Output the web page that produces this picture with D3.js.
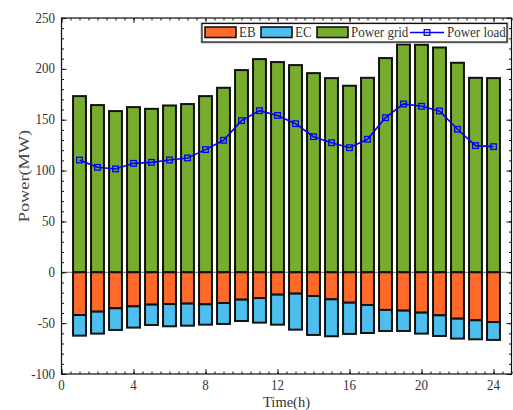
<!DOCTYPE html>
<html><head><meta charset="utf-8">
<script src="https://cdn.jsdelivr.net/npm/d3@7"></script>
<style>html,body{margin:0;padding:0;background:#fff;}svg{display:block;}</style>
</head><body>
<svg id="c" width="513" height="410"></svg>
<script>
const hours = [1,2,3,4,5,6,7,8,9,10,11,12,13,14,15,16,17,18,19,20,21,22,23,24];
const powerGrid = [173.2,164.4,158.5,162.4,160.7,164,165.4,173.2,181.4,198.8,209.6,206.7,203.7,195.8,190.9,183.4,191.2,210.6,224,223.7,221,206,191.2,190.9];
const eb = [-42,-38.7,-35.4,-33.5,-31.8,-31.2,-30.8,-31.5,-30.2,-26.9,-25.3,-22,-21,-23.3,-26.6,-29.9,-32.2,-37,-37.7,-39.7,-42.3,-45.6,-47.2,-48.9];
const ec = [-20.3,-21.6,-21.3,-20.9,-20,-21.9,-21.7,-20,-20.6,-21,-24.2,-29.5,-35.4,-38.3,-36.3,-30.7,-27.5,-20.7,-20,-20.6,-20.3,-19.6,-18.7,-17.6];
const powerLoad = [110.4,103.2,101.6,107.1,108.1,110.4,112.4,120.6,129.8,149.1,158.9,154.2,146.1,133.3,127.4,122.5,130.8,152,165.5,163.2,158.6,140.6,124.5,123.5];
const xTicks = [0,4,8,12,16,20,24];
const yTicks = [-100,-50,0,50,100,150,200,250];
const seriesNames = ["EB","EC","Power grid","Power load"];
const colors = {EB:"#FF6A2A", EC:"#4DBEEE", grid:"#77AC30", load:"#0000FF"};

const svg = d3.select("#c");
const FONT = "Liberation Serif, Times New Roman, serif";
const SY = 1.1;
const x = d3.scaleLinear().domain([0,25]).range([61.5,511.5]);
const y = d3.scaleLinear().domain([-100,250]).range([374,18]);
const bw = x(0.8)-x(0)-1.5;

const plot = svg.append("g");
plot.append("line").attr("x1",x(0)).attr("x2",x(25)).attr("y1",y(0)).attr("y2",y(0))
  .attr("stroke","#444").attr("stroke-width",0.8);

function bars(vals, base, fill){
  plot.append("g").selectAll("rect").data(hours).join("rect")
    .attr("x",(d)=>x(d)-bw/2).attr("width",bw)
    .attr("y",(d,i)=>Math.min(y(base(i)),y(base(i)+vals[i])))
    .attr("height",(d,i)=>Math.abs(y(base(i)+vals[i])-y(base(i))))
    .attr("fill",fill).attr("stroke","#111").attr("stroke-width",2);
}
bars(powerGrid, ()=>0, colors.grid);
bars(eb, ()=>0, colors.EB);
bars(ec, (i)=>eb[i], colors.EC);

const line = d3.line().x((d,i)=>x(hours[i])).y(d=>y(d));
plot.append("path").datum(powerLoad).attr("d",line).attr("fill","none")
  .attr("stroke",colors.load).attr("stroke-width",1.6);
plot.append("g").selectAll("rect").data(powerLoad).join("rect")
  .attr("x",(d,i)=>x(hours[i])-2.8).attr("y",d=>y(d)-2.8).attr("width",5.6).attr("height",5.6)
  .attr("fill","none").attr("stroke",colors.load).attr("stroke-width",1.3);

svg.append("rect").attr("x",x(0)).attr("y",y(250)).attr("width",x(25)-x(0)).attr("height",y(-100)-y(250))
  .attr("fill","none").attr("stroke","#111").attr("stroke-width",1.2);

const xMinor = d3.range(0,25.01,0.5);
const yMinor = d3.range(-100,250.01,10);
function addAxis(axisFn, scale, vals, size, transform){
  const g = svg.append("g").attr("transform",transform)
    .call(axisFn(scale).tickValues(vals).tickSizeInner(-size).tickSizeOuter(0).tickFormat(""));
  g.select(".domain").remove();
  g.selectAll("line").attr("stroke","#111").attr("stroke-width",1);
}
addAxis(d3.axisBottom, x, xMinor, 2.5, `translate(0,${y(-100)})`);
addAxis(d3.axisBottom, x, xTicks, 5, `translate(0,${y(-100)})`);
addAxis(d3.axisTop, x, xMinor, 2.5, `translate(0,${y(250)})`);
addAxis(d3.axisTop, x, xTicks, 5, `translate(0,${y(250)})`);
addAxis(d3.axisLeft, y, yMinor, 2.5, `translate(${x(0)},0)`);
addAxis(d3.axisLeft, y, yTicks, 5, `translate(${x(0)},0)`);
addAxis(d3.axisRight, y, yMinor, 2.5, `translate(${x(25)},0)`);
addAxis(d3.axisRight, y, yTicks, 5, `translate(${x(25)},0)`);

function txt(s, px, py, size, anchor, sy){
  return svg.append("text").text(s)
    .attr("transform",`translate(${px},${py}) scale(1,${sy||SY})`)
    .attr("font-family",FONT).attr("font-size",size).attr("text-anchor",anchor).attr("fill","#333");
}
xTicks.forEach(d=>txt(String(d), x(d), 390, 13, "middle"));
yTicks.forEach(d=>txt(String(d), 55, y(d)+4.5, 13, "end"));
txt("Time(h)", x(12.5), 407, 14.5, "middle", 1.05);
svg.append("text").text("Power(MW)")
  .attr("transform",`translate(29,176) scale(1,1.22) rotate(-90)`)
  .attr("font-family",FONT).attr("font-size",15).attr("text-anchor","middle").attr("fill","#444");

const lg = svg.append("g");
lg.append("rect").attr("x",202).attr("y",23.5).attr("width",305).attr("height",18.5)
  .attr("fill","#fff").attr("stroke","#bbb").attr("stroke-width",3);
lg.append("rect").attr("x",202).attr("y",23.5).attr("width",305).attr("height",18.5)
  .attr("fill","#fff").attr("stroke","#111").attr("stroke-width",1.2);
const sw = [{n:seriesNames[0],c:colors.EB,x:205,tx:239},{n:seriesNames[1],c:colors.EC,x:261,tx:295},{n:seriesNames[2],c:colors.grid,x:317,tx:351}];
sw.forEach(s=>{
  lg.append("rect").attr("x",s.x).attr("y",27).attr("width",31).attr("height",10.5)
    .attr("fill",s.c).attr("stroke","#111").attr("stroke-width",1.6);
  txt(s.n, s.tx, 37.3, 13, "start");
});
lg.append("line").attr("x1",410).attr("x2",444).attr("y1",32.5).attr("y2",32.5).attr("stroke",colors.load).attr("stroke-width",1.6);
lg.append("rect").attr("x",427-2.8).attr("y",32.5-2.8).attr("width",5.6).attr("height",5.6)
  .attr("fill","none").attr("stroke",colors.load).attr("stroke-width",1.3);
txt(seriesNames[3], 447, 37.3, 13, "start");
</script>
</body></html>
